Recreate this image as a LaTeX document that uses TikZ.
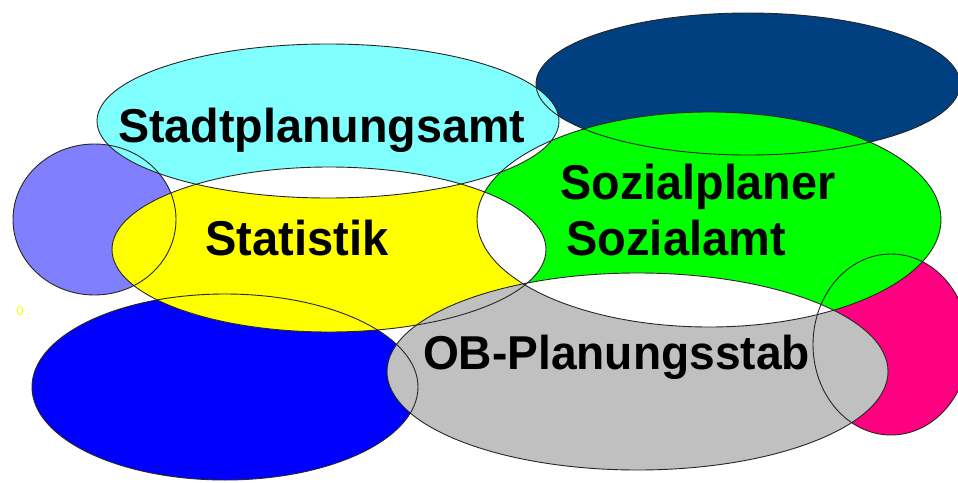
\documentclass[tikz,border=0pt]{standalone}
\usepackage{fontspec}
\setmainfont{Liberation Sans}
\definecolor{cCyan}{HTML}{80FFFF}
\definecolor{cNavy}{HTML}{004080}
\definecolor{cLilac}{HTML}{8080FF}
\definecolor{cYellow}{HTML}{FFFF00}
\definecolor{cGreen}{HTML}{00FF00}
\definecolor{cMagenta}{HTML}{FF0080}
\definecolor{cBlue}{HTML}{0000FF}
\definecolor{cGrey}{HTML}{C0C0C0}
\tikzset{
  eCirc/.style={insert path={(94.5,219.5) ellipse [x radius=81.5pt, y radius=75.5pt]}},
  eNavy/.style={insert path={(748,84) ellipse [x radius=212pt, y radius=71pt]}},
  eMag/.style={insert path={(891,344.5) ellipse [x radius=78pt, y radius=90.5pt]}},
  eBlue/.style={insert path={(225,387) ellipse [x radius=193pt, y radius=93pt]}},
  eCyan/.style={insert path={(328,121) ellipse [x radius=231pt, y radius=77pt]}},
  eYellow/.style={insert path={(329,249.5) ellipse [x radius=217pt, y radius=82.5pt]}},
  eGreen/.style={insert path={(709,219.5) ellipse [x radius=232pt, y radius=107.5pt]}},
  eGrey/.style={insert path={(637.5,371.5) ellipse [x radius=250.5pt, y radius=98.5pt]}},
  outl/.style={draw=black!85, line width=0.9pt},
  lbl/.style={inner sep=0pt, outer sep=0pt, anchor=base west, text=black}
}
\begin{document}
\begin{tikzpicture}[x=1pt,y=-1pt]
\useasboundingbox (0,0) rectangle (958,482);
\clip (0,0) rectangle (958,482);
% background shapes
\fill[cLilac, eCirc];
\fill[cNavy, eNavy];
\fill[cMagenta, eMag];
\fill[cBlue, eBlue];
% main shapes
\fill[cCyan, eCyan];
\fill[cYellow, eYellow];
\fill[cGreen, eGreen];
\fill[cGrey, eGrey];
% overlaps of the main shapes are white
\begin{scope}
  \clip[eCyan];
  \fill[white, eYellow];
  \fill[white, eGreen];
\end{scope}
\begin{scope}
  \clip[eGreen];
  \fill[white, eYellow];
  \fill[white, eGrey];
\end{scope}
% outlines
\path[outl, eCirc];
\path[outl, eNavy];
\path[outl, eMag];
\path[outl, eBlue];
\path[outl, eCyan];
\path[outl, eYellow];
\path[outl, eGreen];
\path[outl, eGrey];
% labels
\node[lbl, font=\fontsize{47.5}{50}\selectfont\bfseries] (tStadt) at (118,142) {\scalebox{0.983}[1]{Stadtplanungsamt}};
\node[lbl, font=\fontsize{48.9}{50}\selectfont\bfseries] (tStat) at (205.5,255) {\scalebox{0.963}[1]{Statistik}};
\node[lbl, font=\fontsize{48.9}{50}\selectfont\bfseries] (tSozP) at (560.5,199) {\scalebox{0.955}[1]{Sozialplaner}};
\node[lbl, font=\fontsize{48.9}{50}\selectfont\bfseries] (tSozA) at (566.5,255) {\scalebox{0.96}[1]{Sozialamt}};
\node[lbl, font=\fontsize{47.5}{50}\selectfont\bfseries] (tOB) at (423,369) {\scalebox{0.971}[1]{OB-Planungsstab}};
\node[inner sep=0pt, text=cYellow, font=\fontsize{13}{14}\selectfont] (tZero) at (20,311) {0};
\end{tikzpicture}
\end{document}
